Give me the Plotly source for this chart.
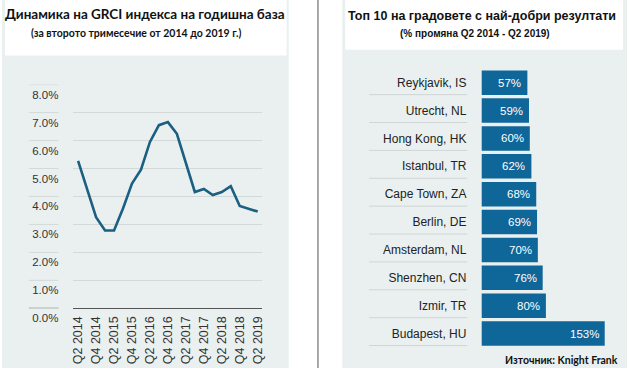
import plotly.graph_objects as go

# ---- data ----
quarters = ["Q2 2014", "Q3 2014", "Q4 2014", "Q1 2015", "Q2 2015", "Q3 2015", "Q4 2015",
            "Q1 2016", "Q2 2016", "Q3 2016", "Q4 2016", "Q1 2017", "Q2 2017", "Q3 2017",
            "Q4 2017", "Q1 2018", "Q2 2018", "Q3 2018", "Q4 2018", "Q1 2019", "Q2 2019"]
grci = [5.27, 4.27, 3.26, 2.78, 2.78, 3.57, 4.46, 4.96, 5.95, 6.55, 6.66, 6.24, 5.20,
        4.16, 4.27, 4.05, 4.16, 4.37, 3.66, 3.56, 3.46]
y_ticks = [0, 1, 2, 3, 4, 5, 6, 7, 8]
y_tick_labels = ["0.0%", "1.0%", "2.0%", "3.0%", "4.0%", "5.0%", "6.0%", "7.0%", "8.0%"]

cities = ["Reykjavik, IS", "Utrecht, NL", "Hong Kong, HK", "Istanbul, TR", "Cape Town, ZA",
          "Berlin, DE", "Amsterdam, NL", "Shenzhen, CN", "Izmir, TR", "Budapest, HU"]
change = [57, 59, 60, 62, 68, 69, 70, 76, 80, 153]

W, H = 630, 384
def px(x):
    return x / W
def py(y):
    return 1 - y / H

BG = "#e9f0ef"
LINE_C = "#1b5f82"
BAR_C = "#0f6699"
GRID_C = "#d3d9d8"
FONT = "Liberation Sans"
TFONT = "Lato"

fig = go.Figure()

fig.add_trace(go.Scatter(x=quarters, y=grci, mode="lines",
                         line=dict(color=LINE_C, width=2.6),
                         xaxis="x", yaxis="y", showlegend=False))

fig.add_trace(go.Bar(x=change, y=cities, orientation="h", marker=dict(color=BAR_C, line=dict(width=0)),
                     xaxis="x2", yaxis="y2", showlegend=False))

shapes = [
    dict(type="rect", xref="paper", yref="paper", x0=px(0), x1=px(289), y0=py(384), y1=py(0),
         fillcolor=BG, line=dict(width=0), layer="below"),
    dict(type="rect", xref="paper", yref="paper", x0=px(3), x1=px(287), y0=py(58), y1=py(0),
         fillcolor="white", line=dict(width=0), layer="below"),
    dict(type="rect", xref="paper", yref="paper", x0=px(343), x1=px(630), y0=py(384), y1=py(0),
         fillcolor=BG, line=dict(width=0), layer="below"),
    dict(type="rect", xref="paper", yref="paper", x0=px(346), x1=px(626), y0=py(52), y1=py(0),
         fillcolor="white", line=dict(width=0), layer="below"),
    dict(type="line", xref="paper", yref="paper", x0=px(318.5), x1=px(318.5), y0=0, y1=1,
         line=dict(color="#8c8c8c", width=1.5)),
]
# underlines below the y tick labels of the line chart
for v in y_ticks:
    shapes.append(dict(type="line", xref="paper", yref="y", x0=px(27), x1=px(57), y0=v, y1=v,
                       line=dict(color="#555555" if v == 0 else GRID_C, width=1)))
# separators under the city labels
for i, c in enumerate(cities):
    shapes.append(dict(type="line", xref="paper", yref="y2", x0=px(370), x1=px(469),
                       y0=i + 0.43, y1=i + 0.43, line=dict(color="#d0d6d5", width=1)))

annotations = [
    dict(text="<b>Динамика на GRCI индекса на годишна база</b>", xref="paper", yref="paper",
         x=px(144), y=py(15), xanchor="center", yanchor="middle", showarrow=False,
         font=dict(family=TFONT, size=13.5, color="#111")),
    dict(text="<b>(за второто тримесечие от 2014 до 2019 г.)</b>", xref="paper", yref="paper",
         x=px(135.5), y=py(34), xanchor="center", yanchor="middle", showarrow=False,
         font=dict(family=TFONT, size=10.5, color="#111")),
    dict(text="<b>Топ 10 на градовете с най-добри резултати</b>", xref="paper", yref="paper",
         x=px(483.5), y=py(16.5), xanchor="center", yanchor="middle", showarrow=False,
         font=dict(family=FONT, size=12.5, color="#111")),
    dict(text="<b>(% промяна Q2 2014 - Q2 2019)</b>", xref="paper", yref="paper",
         x=px(477), y=py(34.5), xanchor="center", yanchor="middle", showarrow=False,
         font=dict(family=FONT, size=10, color="#111")),
    dict(text="<b>Източник: Knight Frank</b>", xref="paper", yref="paper",
         x=px(623), y=py(376), xanchor="right", yanchor="middle", showarrow=False,
         font=dict(family=TFONT, size=10.5, color="#111")),
]
for c, v in zip(cities, change):
    annotations.append(dict(text=f"{v}%", x=v, y=c, xref="x2", yref="y2", xanchor="right",
                            xshift=-4, showarrow=False, font=dict(family=FONT, size=11.5, color="white")))

fig.update_layout(
    width=W, height=H, margin=dict(l=0, r=0, t=0, b=0),
    paper_bgcolor="white", plot_bgcolor="rgba(0,0,0,0)",
    font=dict(family=FONT, color="#333"),
    bargap=0.12,
    shapes=shapes, annotations=annotations,
    xaxis=dict(domain=[px(72), px(262)], type="category", range=[-0.52, 20.47],
               tickmode="array", tickvals=quarters[::2], ticktext=quarters[::2],
               tickangle=-90, tickfont=dict(size=12.5, color="#333"),
               showgrid=False, showline=True, linecolor="#555555", linewidth=1,
               ticks="", ticklabelstandoff=2, zeroline=False, anchor="y"),
    yaxis=dict(domain=[py(321.7), py(88.3)], range=[0, 8], tickmode="array",
               tickvals=y_ticks, ticktext=y_tick_labels, tickfont=dict(size=11.5, color="#333"),
               showgrid=True, gridcolor=GRID_C, gridwidth=1, zeroline=False,
               ticks="", ticklabelstandoff=14, ticklabelshift=10, anchor="x"),
    xaxis2=dict(domain=[px(483.3), px(625)], range=[0, (625 - 483.3) / 0.812],
                visible=False, anchor="y2"),
    yaxis2=dict(domain=[py(362.6), py(71.7)], type="category", autorange="reversed",
                tickfont=dict(size=12, color="#222"), showgrid=False, showline=False,
                zeroline=False, ticks="", ticklabelstandoff=14, anchor="x2"),
)

fig.write_html("out.html", config={"displayModeBar": False},
               post_script="document.body.style.margin='0';document.body.style.overflow='hidden';")
